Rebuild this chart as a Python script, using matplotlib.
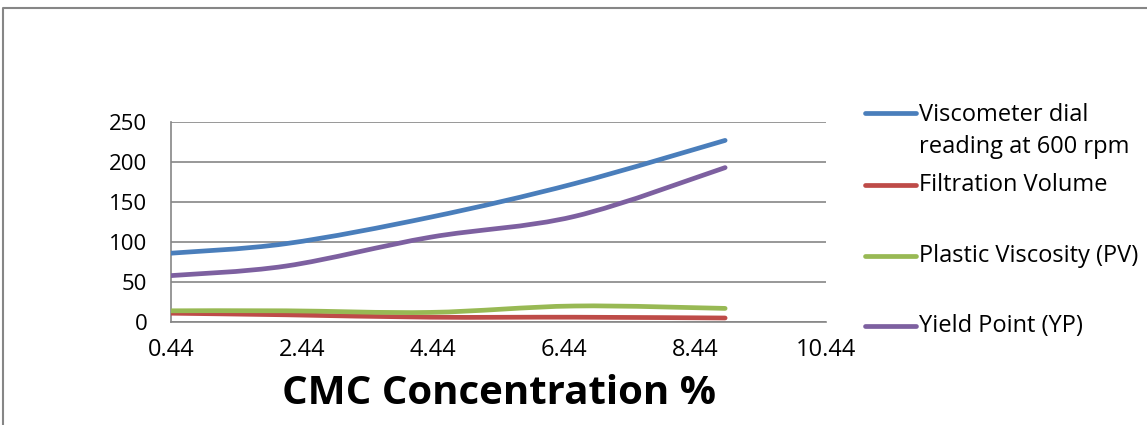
import numpy as np
import matplotlib
matplotlib.use("Agg")
import matplotlib.pyplot as plt
from matplotlib.path import Path
from matplotlib.patches import PathPatch
from matplotlib.lines import Line2D

plt.rcParams['font.family'] = ['Open Sans', 'DejaVu Sans']

cmc = [0.44, 2.2, 4.4, 6.6, 8.9]
viscometer = [86, 98, 131, 173, 227]
filtration = [11, 9, 6, 6, 5]
plastic_visc = [14, 14, 12, 20, 17]
yield_point = [58, 70, 106, 132, 193]

labels = ["Viscometer dial\nreading at 600 rpm", "Filtration Volume",
          "Plastic Viscosity (PV)", "Yield Point (YP)"]
colors = ["#4A7EBB", "#BE4B48", "#98B954", "#7D60A0"]
series = [viscometer, filtration, plastic_visc, yield_point]


def smooth_path(x, y):
    # excel style smoothed line: cubic bezier through each point
    p = np.column_stack([x, y]).astype(float)
    verts = [p[0]]
    codes = [Path.MOVETO]
    for i in range(len(p) - 1):
        p0 = p[i - 1] if i > 0 else p[i]
        p3 = p[i + 2] if i + 2 < len(p) else p[i + 1]
        c1 = p[i] + (p[i + 1] - p0) / 6
        c2 = p[i + 1] - (p3 - p[i]) / 6
        verts += [c1, c2, p[i + 1]]
        codes += [Path.CURVE4] * 3
    return Path(verts, codes)


fig = plt.figure(figsize=(11.47, 4.25), dpi=100)
ax = fig.add_axes([171/1147, 1-322/425, (826-171)/1147, 200/425])

for vals, c in zip(series, colors):
    ax.add_patch(PathPatch(smooth_path(cmc, vals), fill=False, edgecolor=c,
                           lw=3.4, capstyle='round', joinstyle='round', zorder=3))

ax.set_xlim(0.44, 10.44)
ax.set_ylim(0, 250)
ax.set_xticks(np.arange(0.44, 10.45, 2))
ax.set_xticklabels(["0.44", "2.44", "4.44", "6.44", "8.44", "10.44"])
ax.set_yticks(range(0, 251, 50))
ax.yaxis.grid(True, color="#868686", lw=1.2)
ax.set_axisbelow(True)
for s in ["top", "right"]:
    ax.spines[s].set_visible(False)
for s in ["left", "bottom"]:
    ax.spines[s].set_color("#868686")
    ax.spines[s].set_linewidth(1.2)
ax.tick_params(axis="y", length=0, labelsize=16, pad=17)
ax.tick_params(axis="x", length=0, labelsize=17, pad=11.5)
ax.set_xlabel("CMC Concentration %", fontsize=29, fontweight="bold", labelpad=9)

# legend drawn by hand, entries are not evenly spaced
leg_y = [113, 185, 256, 326]
text_y = [131, 185, 256, 326]
for lab, c, ly, ty in zip(labels, colors, leg_y, text_y):
    fig.add_artist(Line2D([865/1147, 916/1147], [1-ly/425]*2, color=c, lw=3.4,
                          solid_capstyle='round'))
    fig.text(919/1147, 1-ty/425, lab, fontsize=17, va="center", ha="left",
             linespacing=1.45)

# chart area border, cut off at the right and bottom
fig.add_artist(Line2D([3/1147, 3/1147, 1.01], [-0.01, 1-8/425, 1-8/425],
                      color="#868686", lw=1.5))

fig.savefig("out.png", dpi=100)
